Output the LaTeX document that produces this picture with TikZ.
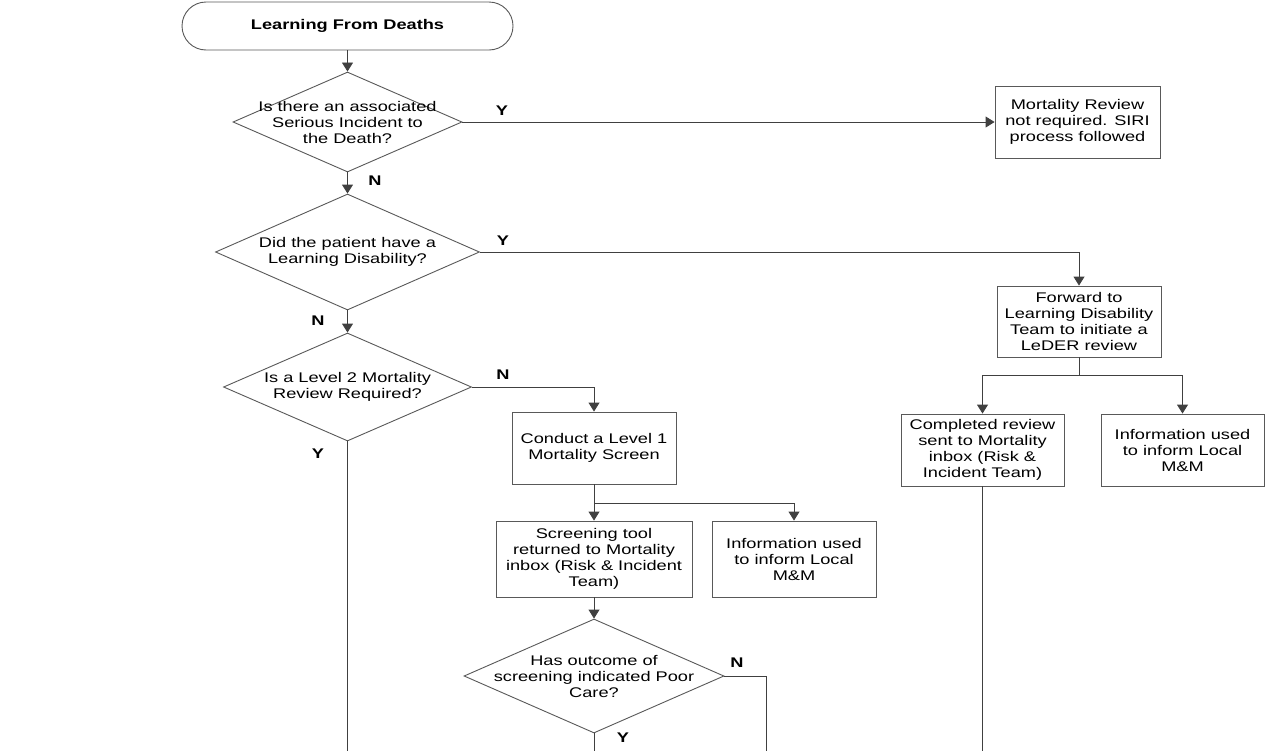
\documentclass[tikz,border=0pt]{standalone}
\usepackage{fontspec}
\setmainfont{Liberation Sans}[FakeStretch=1.3]
\usetikzlibrary{arrows.meta,shapes.geometric}
\begin{document}
\begin{tikzpicture}[x=1pt,y=-1pt,
  every node/.style={font=\fontsize{14}{16}\selectfont},
  box/.style={draw=black!65, line width=0.9pt, fill=white, align=center, inner sep=0pt},
  diam/.style={draw=black!65, line width=0.9pt, diamond, inner sep=0pt},
  txt/.style={align=center, inner sep=0pt},
  lbl/.style={font=\fontsize{14}{16}\selectfont\bfseries, inner sep=0pt},
  con/.style={draw=black!75, line width=0.9pt},
  arr/.style={con, -{Triangle[length=9pt,width=11pt]}}]
\useasboundingbox (0,0) rectangle (1268,750);
\fill[white] (0,0) rectangle (1268,750);

% nodes
\node[box, rounded corners=24pt, minimum width=331pt, minimum height=48pt, font=\fontsize{14}{16}\selectfont\bfseries] (t) at (347.5,26) {Learning From Deaths};

\node[diam, minimum width=229pt, minimum height=100pt] (d1) at (347.5,122) {};
\node[txt] (d1t) at (d1.center) {Is there an associated\\Serious Incident to\\the Death?};

\node[box, minimum width=165pt, minimum height=72pt] (b1) at (1077.5,122) {Mortality Review\\not required. SIRI\\process followed};

\node[diam, minimum width=264pt, minimum height=116pt] (d2) at (347.5,252) {};
\node[txt] (d2t) at (d2.center) {Did the patient have a\\Learning Disability?};

\node[box, minimum width=164pt, minimum height=71pt] (b2) at (1079,321.5) {Forward to\\Learning Disability\\Team to initiate a\\LeDER review};

\node[diam, minimum width=248pt, minimum height=108pt] (d3) at (347.5,387) {};
\node[txt] (d3t) at (d3.center) {Is a Level 2 Mortality\\Review Required?};

\node[box, minimum width=164pt, minimum height=72pt] (b3) at (594,448) {Conduct a Level 1\\Mortality Screen};

\node[box, minimum width=196pt, minimum height=76pt] (b4) at (594,559) {Screening tool\\returned to Mortality\\inbox (Risk \& Incident\\Team)};
\node[box, minimum width=164pt, minimum height=76pt] (b5) at (794,559) {Information used\\to inform Local\\M\&M};

\node[diam, minimum width=260pt, minimum height=114pt] (d4) at (594,676) {};
\node[txt] (d4t) at (d4.center) {Has outcome of\\screening indicated Poor\\Care?};

\node[box, minimum width=163pt, minimum height=72pt] (b6) at (982.5,450) {Completed review\\sent to Mortality\\inbox (Risk \&\\Incident Team)};
\node[box, minimum width=163pt, minimum height=72pt] (b7) at (1182.5,450) {Information used\\to inform Local\\M\&M};

% free ends
\coordinate (e1) at (347.5,751);
\coordinate (e2) at (766,751);
\coordinate (e3) at (594,751);
\coordinate (e4) at (982.5,751);
\coordinate (s1) at (594,503);
\coordinate (s2) at (1079,375);

% connectors
\draw[arr] (t) -- (d1);
\draw[arr] (d1.east) -- (b1.west);
\draw[arr] (d1.south) -- (d2.north);
\draw[arr] (d2.east) -| (b2.north);
\draw[arr] (d2.south) -- (d3.north);
\draw[arr] (d3.east) -| (b3.north);
\draw[con] (d3.south) -- (e1);
\draw[con] (b3.south) -- (s1);
\draw[arr] (s1) -- (b4.north);
\draw[arr] (s1) -| (b5.north);
\draw[arr] (b4.south) -- (d4.north);
\draw[con] (d4.east) -| (e2);
\draw[con] (d4.south) -- (e3);
\draw[con] (b2.south) -- (s2);
\draw[arr] (s2) -| (b6.north);
\draw[arr] (s2) -| (b7.north);
\draw[con] (b6.south) -- (e4);

% labels
\node[lbl] (ly1) at (502,111) {Y};
\node[lbl] (ln1) at (375,181) {N};
\node[lbl] (ly2) at (503,241) {Y};
\node[lbl] (ln2) at (318,321) {N};
\node[lbl] (ln3) at (503,375) {N};
\node[lbl] (ly3) at (318,454) {Y};
\node[lbl] (ln4) at (737,663) {N};
\node[lbl] (ly4) at (623,738) {Y};
\end{tikzpicture}
\end{document}
